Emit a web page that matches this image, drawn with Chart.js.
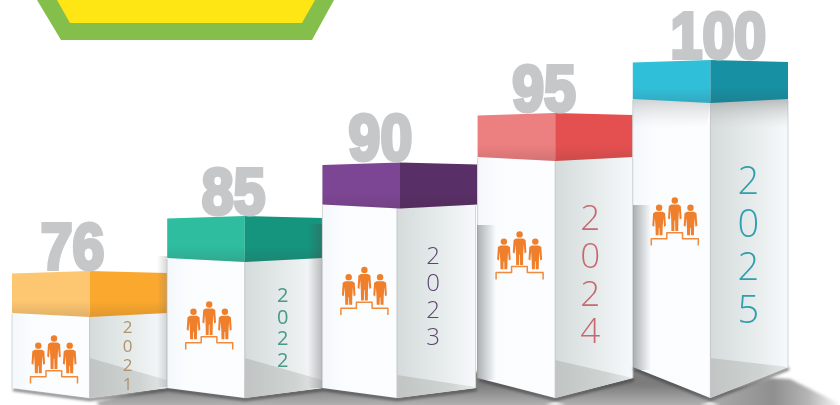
<!DOCTYPE html>
<html><head><meta charset="utf-8">
<style>html,body{margin:0;padding:0;background:#fff}canvas{display:block}</style>
<script src="https://cdn.jsdelivr.net/npm/chart.js@4"></script>
</head><body><canvas id="c" width="840" height="405"></canvas>
<script>
const years = ['2021','2022','2023','2024','2025'];
const scores = [76,85,90,95,100];
const axisValues = [0,76,85,90,95,100];
const axisShares = [0,0.374,0.537,0.696,0.843,1];

const lidFront = ['#fdc671','#2ebd9f','#7d4694','#ec7f80','#30bfd8'];
const lidSide = ['#fba92e','#15957e','#582f66','#e45050','#1790a3'];
const yearColor = ['#b0936a','#4a9a84','#5d4570','#c56b70','#2f9eae'];
// box drawing geometry, per box, in pixels
const lidDepth = [42,42,42,44,39];
const footRise = [10,10,10,20,31];
const shadeRise = [40,40,23,38,40];
const shadeEdge = [8,8,1,0,0];
const iconDy = [63,84,103,117,136];
const yearX = [38,38,33,35,38];
const yearY = [327.7,296,256.7,220,183];
const yearStep = [19,21.8,27.2,37.8,43];
const yearSize = [17,20,24,35,38];
const yearWeight = [400,400,300,300,300];
const scoreDx = [60.5,66.3,58,66.4,85.5];
const bodyMidShift = [0,0,-3,0,0];
const bodyRightShift = [0,0,-2,0,0];
const castShadow = [null,null,null,{x0:477,x1:496,y:225,b:380},{x0:633,x1:651,y:205,b:370}];

class SteppedScale extends Chart.LinearScale {
  static id = 'stepped';
  static defaults = Chart.LinearScale.defaults;
  getPixelForValue(v){
    let i = 1;
    while (i < axisValues.length-1 && v > axisValues[i]) i++;
    const t = (v-axisValues[i-1])/(axisValues[i]-axisValues[i-1]);
    const s = axisShares[i-1]+t*(axisShares[i]-axisShares[i-1]);
    return this.bottom - s*(this.bottom-this.top);
  }
}
Chart.register(SteppedScale);

function poly(ctx, pts, fill){
  ctx.beginPath();
  pts.forEach((p,i)=> i?ctx.lineTo(p[0],p[1]):ctx.moveTo(p[0],p[1]));
  ctx.closePath();
  ctx.fillStyle = fill; ctx.fill();
}
function grad(ctx,x0,y0,x1,y1,stops){
  const g = ctx.createLinearGradient(x0,y0,x1,y1);
  stops.forEach(s=>g.addColorStop(s[0],s[1]));
  return g;
}
function person(ctx,cx,top,legs){
  ctx.fillStyle = '#f07f2b';
  ctx.beginPath(); ctx.arc(cx,top,3.2,0,Math.PI*2); ctx.fill();
  const s = top+4;
  ctx.beginPath();
  ctx.moveTo(cx-3.5,s); ctx.lineTo(cx+3.5,s);
  ctx.lineTo(cx+6,s+1.5); ctx.lineTo(cx+6.8,s+14); ctx.lineTo(cx+4.9,s+15);
  ctx.lineTo(cx+4.2,s+6); ctx.lineTo(cx+3.6,s+15); ctx.lineTo(cx+3.4,legs);
  ctx.lineTo(cx+0.5,legs); ctx.lineTo(cx+0.3,s+16); ctx.lineTo(cx-0.3,s+16); ctx.lineTo(cx-0.5,legs);
  ctx.lineTo(cx-3.4,legs); ctx.lineTo(cx-3.6,s+15); ctx.lineTo(cx-4.2,s+6);
  ctx.lineTo(cx-4.9,s+15); ctx.lineTo(cx-6.8,s+14); ctx.lineTo(cx-6,s+1.5);
  ctx.closePath(); ctx.fill();
}
function icon(ctx,x,y){
  person(ctx,x+8.3,y+10.7,y+38.3);
  person(ctx,x+24,y+3.5,y+34);
  person(ctx,x+39.7,y+10.7,y+38.3);
  ctx.strokeStyle = '#f08a3c'; ctx.lineWidth = 1.5; ctx.lineJoin='round';
  ctx.beginPath();
  ctx.moveTo(x+0.5,y+48.5); ctx.lineTo(x+0.5,y+41.7); ctx.lineTo(x+16,y+41.7);
  ctx.lineTo(x+16,y+35.7); ctx.lineTo(x+31.7,y+35.7); ctx.lineTo(x+31.7,y+41.7);
  ctx.lineTo(x+47.5,y+41.7); ctx.lineTo(x+47.5,y+48.5);
  ctx.stroke();
}
const boxes = {
  id:'boxes',
  beforeDatasetsDraw(chart){
    const ctx = chart.ctx;
    ctx.save();
    // banner
    poly(ctx,[[37,0],[61,40],[312,40],[334,0]],'#85bf4b');
    poly(ctx,[[57,0],[70,23],[302,23],[315,0]],'#fde614');
    // floor shadow
    ctx.filter='blur(1.5px)';
    poly(ctx,[[96,402],[168,385],[640,365],[710,392],[790,385],[790,420],[112,420]],
      grad(ctx,0,385,0,406,[[0,'#7c7c7c'],[1,'#b3b3b3']]));
    poly(ctx,[[705,398],[770,378],[790,379],[838,403],[835,420],[705,420]],
      grad(ctx,720,0,838,0,[[0,'#a6a6a6'],[0.45,'#8f8f8f'],[0.75,'#b5b5b5'],[1,'#f4f4f4']]));
    ctx.filter='blur(1px)';
    // little glints under the front corners
    poly(ctx,[[545,405],[555,402],[566,405]],'#ffffff');
    poly(ctx,[[700,405],[710,402],[720,405]],'#ffffff');
    ctx.restore();
  },
  afterDatasetsDraw(chart){
    const ctx = chart.ctx;
    const bars = chart.getDatasetMeta(0).data;
    const base = chart.chartArea.bottom;
    bars.forEach((bar,i)=>{
      const w = bar.width, L = bar.x-w/2, R0 = bar.x+w/2, M0 = bar.x, T = bar.y;
      const M = M0+bodyMidShift[i], R = R0+bodyRightShift[i];
      const lb = T+lidDepth[i];
      const fy = base-footRise[i];
      ctx.save();
      // contact shadow under the feet
      ctx.save();
      ctx.filter='blur(1.5px)';
      ctx.strokeStyle='rgba(50,50,50,.75)'; ctx.lineWidth=2.5;
      ctx.beginPath(); ctx.moveTo(L+1,fy+1.5); ctx.lineTo(M,base+1.5); ctx.lineTo(R+1,fy+1.5); ctx.stroke();
      ctx.restore();
      // front and side faces
      poly(ctx,[[L,lb-2],[M,lb+2],[M,base],[L,fy]],
        grad(ctx,L,0,M,0,[[0,'#f4f8fb'],[0.25,'#fafcfe'],[1,'#fbfdff']]));
      poly(ctx,[[M,lb+2],[R,lb-2],[R,fy],[M,base]],
        grad(ctx,M,0,R,0,[[0,'#d5dbda'],[0.45,'#e3e8e8'],[1,'#f6f9fb']]));
      // dark floor triangle on side
      const sy = base-shadeRise[i], ey = fy-shadeEdge[i];
      poly(ctx,[[M,sy],[R,ey],[R,fy],[M,base]],
        grad(ctx,M,0,R,0,[[0,'#c0c4c3'],[0.65,'#cfd3d2'],[1,'#e4e8e8']]));
      // edges
      ctx.strokeStyle='#c4c8c9'; ctx.lineWidth=1;
      ctx.beginPath(); ctx.moveTo(M,lb+2); ctx.lineTo(M,base); ctx.stroke();
      ctx.strokeStyle='#d2d5d6';
      ctx.beginPath(); ctx.moveTo(L,lb); ctx.lineTo(L,fy); ctx.moveTo(R,lb); ctx.lineTo(R,fy); ctx.stroke();
      // cast shadow from neighbour on the body
      const cs = castShadow[i];
      if (cs){
        ctx.fillStyle=grad(ctx,cs.x0,0,cs.x1,0,[[0,'rgba(120,125,125,.6)'],[1,'rgba(120,125,125,0)']]);
        ctx.fillRect(cs.x0,cs.y,cs.x1-cs.x0,cs.b-cs.y);
      }
      // top shading on the tallest box
      if (i===4){
        poly(ctx,[[L,lb-2],[M,lb+2],[M-4,lb+30],[L,lb+30]],grad(ctx,0,lb,0,lb+28,[[0,'rgba(170,172,172,.5)'],[1,'rgba(210,210,210,0)']]));
        poly(ctx,[[M,lb+2],[R,lb-2],[R,lb+30],[M,lb+30]],grad(ctx,0,lb,0,lb+28,[[0,'rgba(150,152,152,.6)'],[1,'rgba(200,200,200,0)']]));
      }
      // lid
      poly(ctx,[[L,T+1.5],[M0,T-1],[M0,lb+3],[L,lb-1]],lidFront[i]);
      poly(ctx,[[M0,T-1],[R0,T+1],[R0,lb-1],[M0,lb+3]],lidSide[i]);
      poly(ctx,[[L,lb-13],[R0,lb-13],[R0,lb-1],[M0,lb+3],[L,lb-1]],
        grad(ctx,0,lb-13,0,lb+3,[[0,'rgba(60,40,40,0)'],[1,'rgba(60,40,40,.14)']]));
      // score
      ctx.save();
      ctx.fillStyle='#c6c7c9'; ctx.strokeStyle='#c6c7c9'; ctx.lineWidth=4; ctx.lineJoin='miter'; ctx.miterLimit=3;
      ctx.translate(L+scoreDx[i],T-3);
      ctx.scale(0.88,1);
      ctx.font='bold 65px "Liberation Sans"';
      ctx.textAlign='center'; ctx.textBaseline='alphabetic';
      const txt = String(scores[i]);
      ctx.strokeText(txt,0,0); ctx.fillText(txt,0,0);
      ctx.restore();
      // icon
      icon(ctx,L+18,T+iconDy[i]);
      // year digits, stacked
      ctx.fillStyle=yearColor[i];
      ctx.font=yearWeight[i]+' '+yearSize[i]+'px "Open Sans"';
      ctx.textAlign='center'; ctx.textBaseline='middle';
      years[i].split('').forEach((d,k)=>{
        ctx.fillText(d,M0+yearX[i],yearY[i]+k*yearStep[i]);
      });
      ctx.restore();
    });
    // shadows falling left of the next box, over lid and side
    ctx.fillStyle=grad(ctx,157,0,168,0,[[0,'rgba(110,110,110,0)'],[1,'rgba(110,110,110,.3)']]);
    ctx.fillRect(157,256,10,131);
    ctx.fillStyle=grad(ctx,308,0,322,0,[[0,'rgba(70,70,70,0)'],[1,'rgba(70,70,70,.35)']]);
    ctx.fillRect(308,224,14,164);
  }
};
new Chart(document.getElementById('c'),{
  type:'bar',
  data:{labels:years,datasets:[{data:scores,backgroundColor:'transparent',borderWidth:0,barPercentage:1,categoryPercentage:1}]},
  options:{
    responsive:false,animation:false,
    layout:{padding:{left:12,right:52,top:61,bottom:7}},
    plugins:{legend:{display:false},tooltip:{enabled:false}},
    scales:{
      x:{display:false},
      y:{type:'stepped',display:false,min:0,max:100,beginAtZero:true}
    }
  },
  plugins:[boxes]
});
</script></body></html>
